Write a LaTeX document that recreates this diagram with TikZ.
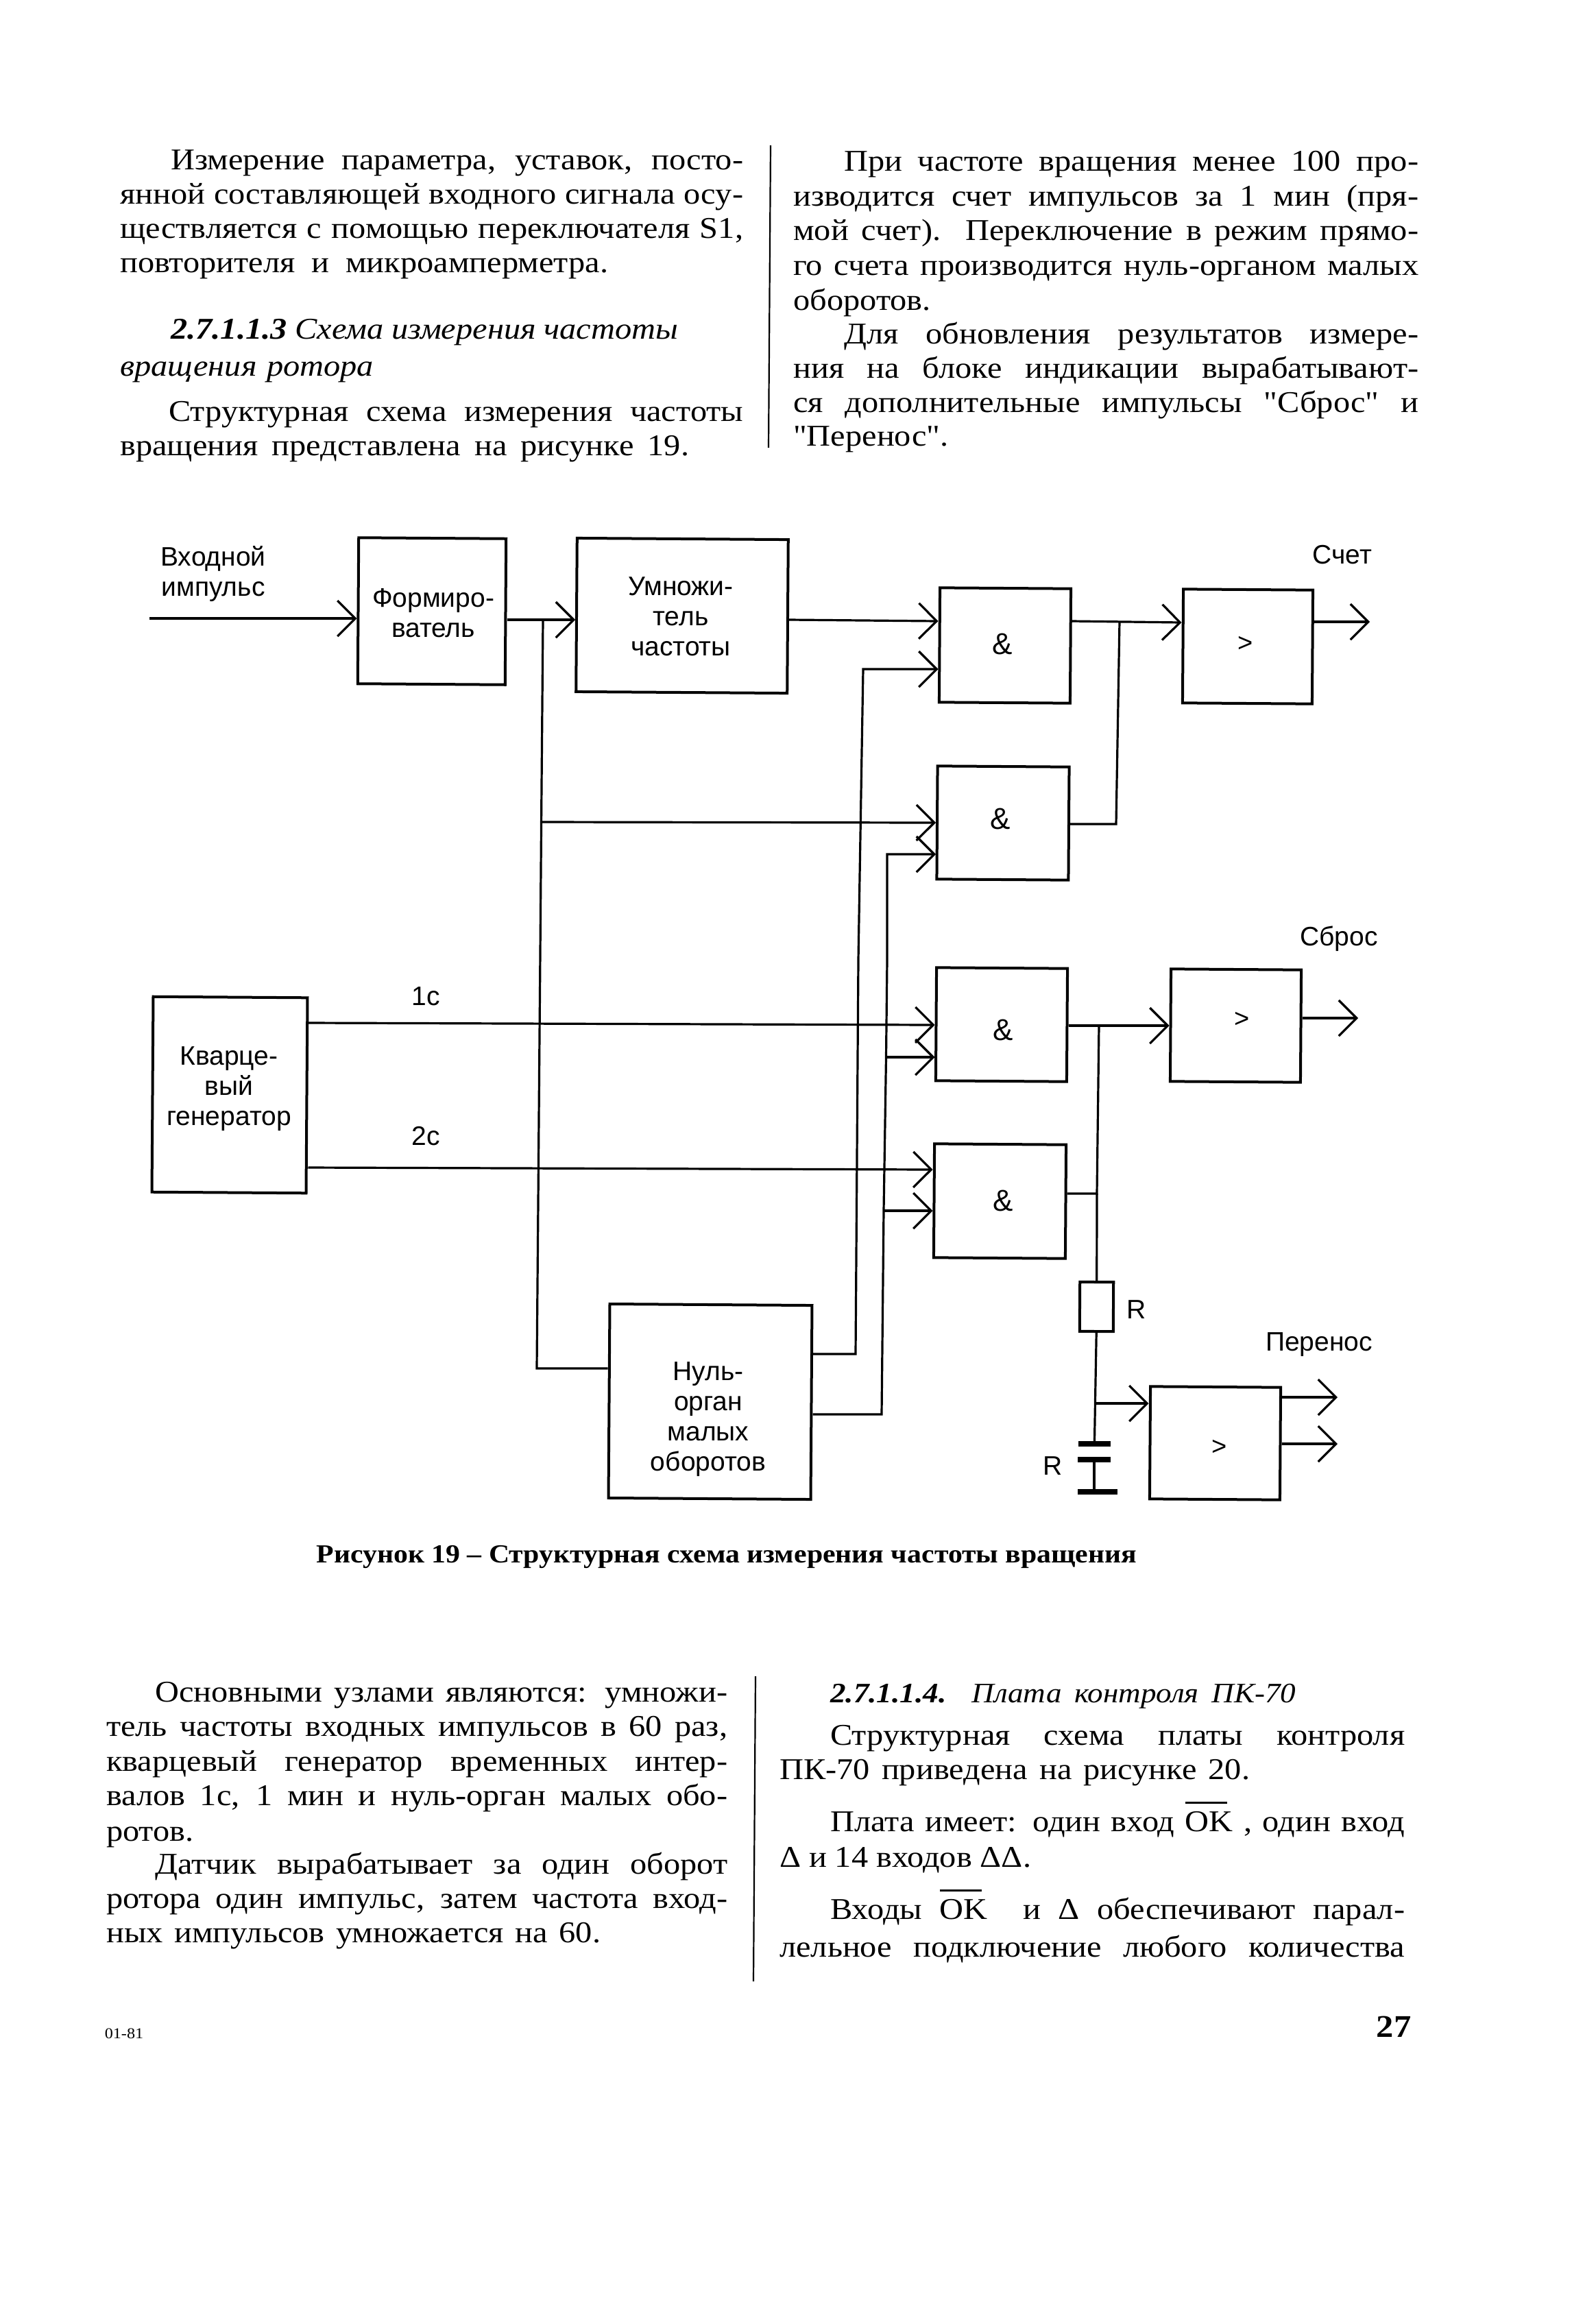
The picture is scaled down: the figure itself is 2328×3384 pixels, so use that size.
\documentclass[tikz,border=0pt]{standalone}
\usepackage{fontspec}
\usepackage{calc}
\setmainfont[FakeStretch=1.1,Ligatures=TeXOff]{Liberation Serif}
\newfontfamily\dgfont{Liberation Sans}
\usetikzlibrary{arrows.meta}
\newcounter{tline}
\newcommand{\bodyfont}{\fontsize{44}{50}\selectfont}
\newcommand{\tl}[4]{\stepcounter{tline}\node[txtline] (line\arabic{tline}) at (#1,#3+14) {\makebox[\dimexpr#2pt-#1pt\relax][s]{#4}};}
\newcommand{\okbar}{\rlap{\rule[40pt]{61pt}{3pt}}OK}
\tikzset{
  box/.style={draw=black,line width=4pt,rotate=-0.4,inner sep=0pt,fill=white},
  lbl/.style={font=\dgfont\fontsize{39}{44}\selectfont,align=center,inner sep=0pt},
  amp/.style={lbl,font=\dgfont\fontsize{44}{48}\selectfont},
  gt/.style={lbl,font=\dgfont\fontsize{38}{40}\selectfont},
  txtline/.style={anchor=base west,inner sep=0pt,font=\bodyfont},
  wire/.style={line width=3.2pt,line join=miter},
  arr/.style={wire,-{Straight Barb[length=26pt,width=52pt,line width=3.2pt]}},
  divider/.style={line width=2.2pt},
  plate/.style={fill=black,draw=none,inner sep=0pt,minimum height=8pt}
}
\begin{document}
\begin{tikzpicture}[x=1pt,y=-1pt]
\useasboundingbox (0,0) rectangle (2328,3384);
\fill[white] (0,0) rectangle (2328,3384);

% ---------- body text
\tl{249}{1084}{233}{Измерение параметра, уставок, посто-}
\tl{175}{1084}{283}{янной составляющей входного сигнала осу-}
\tl{175}{1084}{333}{ществляется с помощью переключателя S1,}
\tl{175}{887}{383}{повторителя и микроамперметра.}
\tl{249}{989}{480}{\textit{\textbf{2.7.1.1.3} Схема измерения частоты}}
\tl{175}{545}{534}{\textit{вращения ротора}}
\tl{246}{1084}{600}{Структурная схема измерения частоты}
\tl{175}{1005}{650}{вращения представлена на рисунке 19.}
\tl{1231}{2069}{235}{При частоте вращения менее 100 про-}
\tl{1157}{2069}{286}{изводится счет импульсов за 1 мин (пря-}
\tl{1157}{2069}{336}{мой счет). Переключение в режим прямо-}
\tl{1157}{2069}{387}{го счета производится нуль-органом малых}
\tl{1157}{1361}{438}{оборотов.}
\tl{1231}{2069}{487}{Для обновления результатов измере-}
\tl{1157}{2069}{537}{ния на блоке индикации вырабатывают-}
\tl{1157}{2069}{587}{ся дополнительные импульсы "Сброс" и}
\tl{1157}{1397}{636}{"Перенос".}
\tl{226}{1061}{2468}{Основными узлами являются: умножи-}
\tl{155}{1061}{2518}{тель частоты входных импульсов в 60 раз,}
\tl{155}{1061}{2569}{кварцевый генератор временных интер-}
\tl{155}{1061}{2619}{валов 1с, 1 мин и нуль-орган малых обо-}
\tl{155}{283}{2671}{ротов.}
\tl{226}{1061}{2719}{Датчик вырабатывает за один оборот}
\tl{155}{1061}{2769}{ротора один импульс, затем частота вход-}
\tl{155}{876}{2819}{ных импульсов умножается на 60.}
\tl{1211}{1890}{2469}{\fontsize{41}{50}\selectfont\textit{\textbf{2.7.1.1.4.} Плата контроля ПК-70}}
\tl{1211}{2049}{2531}{Структурная схема платы контроля}
\tl{1137}{1823}{2581}{ПК-70 приведена на рисунке 20.}
\tl{1211}{2049}{2657}{Плата имеет: один вход \okbar\ , один вход}
\tl{1137}{1504}{2709}{Δ и 14 входов ΔΔ.}
\tl{1211}{2049}{2785}{Входы \okbar\ \ и Δ обеспечивают парал-}
\tl{1137}{2049}{2840}{лельное подключение любого количества}
\node[inner sep=0pt,anchor=center,font=\fontsize{38}{44}\selectfont\bfseries] (cap) at (1060,2271) {Рисунок 19 – Структурная схема измерения частоты вращения};
\node[inner sep=0pt,font=\fontsize{46}{50}\selectfont\bfseries] (pagenum) at (2033,2956) {27};
\node[inner sep=0pt,font=\fontsize{22}{26}\selectfont] (sign) at (181,2966) {01-81};
\coordinate (d1a) at (1124,212); \coordinate (d1b) at (1121,653);
\coordinate (d2a) at (1102,2445); \coordinate (d2b) at (1099,2890);
\draw[divider] (d1a) -- (d1b);
\draw[divider] (d2a) -- (d2b);

% ---------- boxes
\node[box,minimum width=215pt,minimum height=213pt] (form) at (630,891.5) {};
\node[box,minimum width=308pt,minimum height=224pt] (mult) at (995,898) {};
\node[box,minimum width=225pt,minimum height=285pt] (kv) at (335,1597) {};
\node[box,minimum width=295pt,minimum height=283pt] (nul) at (1036,2044.5) {};
\node[box,minimum width=191pt,minimum height=167pt] (a1) at (1466,941.5) {};
\node[box,minimum width=192pt,minimum height=165pt] (a2) at (1463,1200.5) {};
\node[box,minimum width=191pt,minimum height=165pt] (a3) at (1461,1494.5) {};
\node[box,minimum width=192pt,minimum height=166pt] (a4) at (1458.5,1752) {};
\node[box,minimum width=189pt,minimum height=166pt] (s1) at (1820,943) {};
\node[box,minimum width=190pt,minimum height=164pt] (s2) at (1802.5,1496) {};
\node[box,minimum width=190pt,minimum height=164pt] (s3) at (1772.5,2105) {};
\node[box,minimum width=49pt,minimum height=72pt] (res) at (1599.5,1906) {};
\node[plate,minimum width=47pt] (c1) at (1596.5,2106) {};
\node[plate,minimum width=48pt] (c2) at (1596,2129) {};
\node[plate,minimum width=58pt] (c3) at (1601,2176) {};

% ---------- box labels
\node[lbl] (t1) at (311,837) {Входной\\импульс};
\node[lbl] (t2) at (632,894) {Формиро-\\ватель};
\node[lbl] (t3) at (993,899) {Умножи-\\тель\\частоты};
\node[lbl] (t4) at (334,1588) {Кварце-\\вый\\генератор};
\node[lbl] (t5) at (1033,2070) {Нуль-\\орган\\малых\\оборотов};
\node[lbl] (t6) at (621,1453) {1с};
\node[lbl] (t7) at (621,1657) {2с};
\node[lbl] (t8) at (1958,809) {Счет};
\node[lbl] (t9) at (1953,1369) {Сброс};
\node[lbl] (t10) at (1924,1961) {Перенос};
\node[lbl] (t11) at (1658,1910) {R};
\node[lbl] (t12) at (1536,2138) {R};
\node[amp] (am1) at (1462,939) {\&};
\node[amp] (am2) at (1459,1194) {\&};
\node[amp] (am3) at (1463,1502) {\&};
\node[amp] (am4) at (1463,1751) {\&};
\node[gt] (g1) at (1817,939) {>};
\node[gt] (g2) at (1812,1487) {>};
\node[gt] (g3) at (1779,2111) {>};

% ---------- junctions and free ends
\coordinate (inA) at (218,902);
\coordinate (j1) at (792,904);
\coordinate (j2) at (789.6,1199);
\coordinate (jb) at (783,1996);
\coordinate (p1) at (1248,1975);
\coordinate (p1m) at (1252,1400);
\coordinate (p1t) at (1259,976);
\coordinate (p2) at (1286,2063);
\coordinate (p2a) at (1289,1766);
\coordinate (p2b) at (1292.5,1542);
\coordinate (p2c) at (1294,1400);
\coordinate (p2t) at (1294,1246);
\coordinate (o1) at (1633,906);
\coordinate (o1b) at (1628,1202);
\coordinate (o2) at (1603,1496);
\coordinate (o2b) at (1600,1741);
\coordinate (jr) at (1597,2047);
\coordinate (e1) at (1998,907);
\coordinate (e2) at (1981,1485);
\coordinate (e3) at (1951,2038);
\coordinate (e4) at (1951,2106);

% ---------- connectors
\draw[arr] (inA) -- (form.west |- inA);
\draw[arr] (form.east |- j1) -- (mult.west |- j1);
\draw[wire] (j1) -- (jb) -- (nul.west |- jb);
\draw[arr] (j2) -- (a2.west |- 0,1200);
\draw[arr] (mult.east |- 0,904) -- (a1.west |- 0,906);
\draw[arr] (kv.east |- 0,1492) -- (a3.west |- 0,1495);
\draw[arr] (kv.east |- 0,1703) -- (a4.west |- 0,1706);
\draw[arr] (nul.east |- p1) -- (p1) -- (p1m) -- (p1t) -- (a1.west |- p1t);
\draw[arr] (nul.east |- p2) -- (p2) -- (p2a) -- (p2b) -- (p2c) -- (p2t) -- (a2.west |- p2t);
\draw[arr] (p2b) -- (a3.west |- p2b);
\draw[arr] (p2a) -- (a4.west |- p2a);
\draw[arr] (a1.east |- o1) -- (s1.west |- 0,908);
\draw[wire] (o1) -- (o1b) -- (a2.east |- o1b);
\draw[arr] (s1.east |- e1) -- (e1);
\draw[arr] (a3.east |- o2) -- (s2.west |- o2);
\draw[wire] (o2) -- (o2b) -- (a4.east |- o2b);
\draw[wire] (o2b) -- (res.north);
\draw[arr] (s2.east |- e2) -- (e2);
\draw[wire] (res.south) -- (c1.north);
\draw[arr] (jr) -- (s3.west |- jr);
\draw[wire] (c2.south) -- (c3.north -| c2.south);
\draw[arr] (s3.east |- e3) -- (e3);
\draw[arr] (s3.east |- e4) -- (e4);
\end{tikzpicture}
\end{document}
